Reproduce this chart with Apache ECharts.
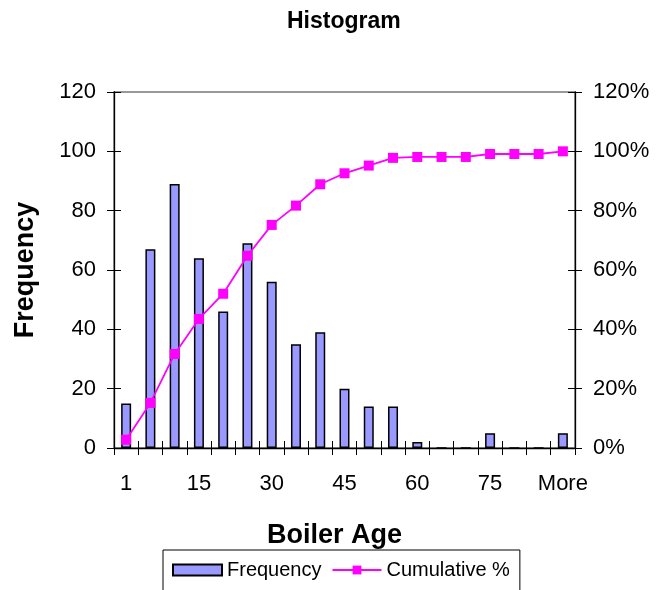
<!DOCTYPE html>
<html>
<head>
<meta charset="utf-8">
<script src="https://cdn.jsdelivr.net/npm/echarts@6/dist/echarts.min.js"></script>
<style>
  html, body { margin: 0; padding: 0; background: #fff; }
  #chart { width: 656px; height: 590px; }
</style>
</head>
<body>
<div id="chart"></div>
<script>
// Boiler age bins (upper bound of each bin)
const categories = ['1', '5', '10', '15', '20', '25', '30', '35', '40', '45',
  '50', '55', '60', '65', '70', '75', '80', '85', 'More'];
// Number of boilers per bin
const frequency = [15, 67, 89, 64, 46, 69, 56, 35, 39, 20,
  14, 14, 2, 0, 0, 5, 0, 0, 5];
// Cumulative share, in percent
const cumulativePct = [2.8, 15.2, 31.7, 43.5, 52.0, 64.8, 75.2, 81.7, 88.9, 92.6,
  95.2, 97.8, 98.1, 98.1, 98.1, 99.1, 99.1, 99.1, 100];
// Axis ranges
const freqMax = 120, freqStep = 20;
const pctMax = 120, pctStep = 20;

const FONT = '"Liberation Sans", Arial, sans-serif';
const gridBox = { left: 114, right: 81, top: 92, bottom: 142 };

const chart = echarts.init(document.getElementById('chart'));

// Two identical grids: the first carries labels and outward ticks,
// the second adds inward ticks so the marks cross each axis line.
const xBase = {
  type: 'category',
  data: categories,
  boundaryGap: true,
  axisLine: { lineStyle: { color: '#000', width: 1.3 } },
  splitLine: { show: false }
};

chart.setOption({
  animation: false,
  title: {
    text: 'Histogram',
    left: 282,
    top: 5,
    textStyle: { fontFamily: FONT, fontWeight: 'bold', fontSize: 23, color: '#000' }
  },
  legend: {
    left: 163,
    top: 550,
    padding: [10, 10, 40, 9],
    borderColor: '#000',
    borderWidth: 1,
    itemWidth: 49,
    itemHeight: 11,
    itemGap: 10,
    textStyle: { fontFamily: FONT, fontSize: 20, color: '#000' },
    data: [
      { name: 'Frequency', icon: 'rect' },
      { name: 'Cumulative %' }
    ]
  },
  grid: [
    Object.assign({ show: true, borderColor: '#777', borderWidth: 1.5, backgroundColor: 'transparent' }, gridBox),
    Object.assign({ show: false }, gridBox)
  ],
  xAxis: [
    Object.assign({}, xBase, {
      gridIndex: 0,
      name: 'Boiler Age',
      nameLocation: 'middle',
      nameGap: 74,
      nameTextStyle: {
        fontFamily: FONT, fontWeight: 'bold', fontSize: 27, color: '#000',
        padding: [0, 20, 0, 0]
      },
      axisTick: { show: true, inside: false, length: 7, interval: 0, lineStyle: { color: '#000' } },
      axisLabel: { interval: 2, margin: 25, fontFamily: FONT, fontSize: 22, color: '#000' }
    }),
    Object.assign({}, xBase, {
      gridIndex: 1,
      axisLine: { show: false },
      axisTick: { show: true, inside: true, length: 7, interval: 0, lineStyle: { color: '#000' } },
      axisLabel: { show: false }
    })
  ],
  yAxis: [
    {
      type: 'value', gridIndex: 0, position: 'left',
      min: 0, max: freqMax, interval: freqStep,
      name: 'Frequency',
      nameLocation: 'middle',
      nameGap: 75,
      nameRotate: 90,
      nameTextStyle: { fontFamily: FONT, fontWeight: 'bold', fontSize: 27, color: '#000' },
      axisLine: { show: true, lineStyle: { color: '#000', width: 1.3 } },
      axisTick: { show: true, inside: false, length: 7, lineStyle: { color: '#000' } },
      axisLabel: { margin: 18, fontFamily: FONT, fontSize: 22, color: '#000' },
      splitLine: { show: false }
    },
    {
      type: 'value', gridIndex: 0, position: 'right',
      min: 0, max: pctMax, interval: pctStep,
      axisLine: { show: true, lineStyle: { color: '#000', width: 1.3 } },
      axisTick: { show: true, inside: false, length: 7, lineStyle: { color: '#000' } },
      axisLabel: { margin: 18, fontFamily: FONT, fontSize: 22, color: '#000', formatter: '{value}%' },
      splitLine: { show: false }
    },
    {
      type: 'value', gridIndex: 1, position: 'left',
      min: 0, max: freqMax, interval: freqStep,
      axisLine: { show: false },
      axisTick: { show: true, inside: true, length: 7, lineStyle: { color: '#000' } },
      axisLabel: { show: false },
      splitLine: { show: false }
    },
    {
      type: 'value', gridIndex: 1, position: 'right',
      min: 0, max: pctMax, interval: pctStep,
      axisLine: { show: false },
      axisTick: { show: true, inside: true, length: 7, lineStyle: { color: '#000' } },
      axisLabel: { show: false },
      splitLine: { show: false }
    }
  ],
  series: [
    {
      name: 'Frequency',
      type: 'bar',
      xAxisIndex: 0,
      yAxisIndex: 0,
      data: frequency,
      barWidth: 10,
      itemStyle: { color: '#9999FF', borderColor: '#000', borderWidth: 1.5 }
    },
    {
      name: 'Cumulative %',
      type: 'line',
      xAxisIndex: 0,
      yAxisIndex: 1,
      data: cumulativePct,
      symbol: 'rect',
      symbolSize: 10,
      lineStyle: { color: '#FF00FF', width: 1.8 },
      itemStyle: { color: '#FF00FF' },
      z: 3
    }
  ]
});
</script>
</body>
</html>
